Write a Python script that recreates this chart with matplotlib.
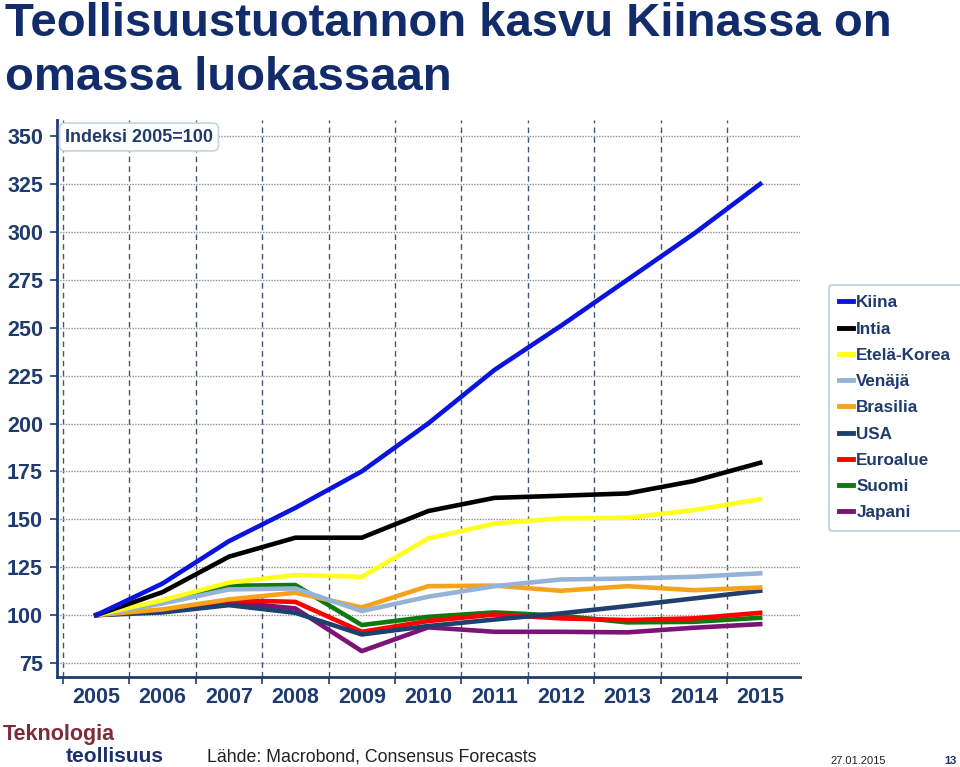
import matplotlib.pyplot as plt
import numpy as np

# data (index 2005 = 100)
years = [2005, 2006, 2007, 2008, 2009, 2010, 2011, 2012, 2013, 2014, 2015]
kiina = [100, 116.5, 138.6, 156.0, 175.0, 200.0, 228.0, 251.0, 275.0, 299.0, 325.0]
intia = [100, 112.0, 130.5, 140.4, 140.4, 154.3, 161.2, 162.3, 163.5, 170.0, 179.5]
etela_korea = [100, 107.8, 117.0, 120.9, 120.0, 140.0, 147.8, 150.5, 150.8, 154.8, 160.5]
venaja = [100, 106.1, 113.4, 113.9, 102.1, 109.6, 115.1, 118.6, 119.1, 120.0, 121.8]
brasilia = [100, 103.0, 108.2, 111.7, 104.0, 115.1, 115.4, 112.7, 115.1, 113.0, 114.4]
usa = [100, 101.4, 105.2, 101.2, 89.9, 94.3, 97.7, 100.9, 104.7, 108.7, 112.7]
euroalue = [100, 102.6, 107.8, 106.9, 91.3, 96.9, 100.3, 98.3, 97.4, 98.3, 101.2]
suomi = [100, 106.5, 115.3, 115.7, 94.8, 99.1, 101.4, 99.7, 96.2, 96.5, 98.6]
japani = [100, 102.1, 106.9, 103.5, 81.2, 93.6, 91.3, 91.3, 91.0, 93.4, 95.3]

names = ["Kiina", "Intia", "Etelä-Korea", "Venäjä", "Brasilia", "USA", "Euroalue", "Suomi", "Japani"]
series = [kiina, intia, etela_korea, venaja, brasilia, usa, euroalue, suomi, japani]
colors = ["#0A14DC", "#000000", "#FFFF1F", "#95B3D7", "#F5A31C", "#1F3F6E", "#FF0000", "#0E7A0E", "#7B1476"]

navy = "#1F3B6E"
title_col = "#112B6B"
plt.rcParams["font.family"] = ["Liberation Sans", "DejaVu Sans"]

fig = plt.figure(figsize=(9.6, 7.67), dpi=100)
W, H = 960, 767
ax = fig.add_axes([57 / W, 1 - 677 / H, (800 - 57) / W, (677 - 120) / H])

n = len(names)
for i in range(n - 1, -1, -1):
    ax.plot(years, series[i], color=colors[i], lw=3.3, label=names[i],
            zorder=3 + (n - i))

ax.set_xlim(2004.41, 2015.6)
ax.set_ylim(67.7, 358.4)

ax.set_yticks(np.arange(75, 351, 25))
ax.set_xticks(years)
ax.set_xticks(np.arange(2004.5, 2015, 1.0), minor=True)

ax.tick_params(axis="y", length=5, width=1.2, color=navy, pad=5,
               labelsize=15.5, labelcolor=navy)
ax.tick_params(axis="x", which="major", length=0, pad=7,
               labelsize=15.5, labelcolor=navy)
ax.tick_params(axis="x", which="minor", length=5, width=1.2, color=navy)
for lab in ax.get_yticklabels() + ax.get_xticklabels():
    lab.set_fontweight("bold")

# grid
ax.grid(axis="y", which="major", color="#8C8C8C", lw=1, linestyle=(0, (1, 1)), zorder=0)
ax.grid(axis="x", which="minor", color="#45576F", lw=1, linestyle=(0, (4, 3)), zorder=0)
ax.set_axisbelow(True)

for s in ["top", "right"]:
    ax.spines[s].set_visible(False)
for s in ["left", "bottom"]:
    ax.spines[s].set_color(navy)
    ax.spines[s].set_linewidth(2)

# legend in legend order
handles, labels = ax.get_legend_handles_labels()
order = [labels.index(nm) for nm in names]
leg = ax.legend([handles[k] for k in order], [labels[k] for k in order],
                loc="upper left", bbox_to_anchor=(829 / W, 1 - 285 / H),
                bbox_transform=fig.transFigure, fancybox=True,
                prop={"weight": "bold", "size": 12.3},
                handlelength=0.8, handletextpad=0.2, labelspacing=0.66,
                borderpad=0.6, borderaxespad=0, framealpha=1)
leg.get_frame().set_edgecolor("#C8D4E0")
leg.get_frame().set_linewidth(1.5)
for t in leg.get_texts():
    t.set_color(navy)
for h in leg.get_lines():
    h.set_linewidth(3.5)

# index label
fig.text(65 / W, 1 - 137 / H, "Indeksi 2005=100", fontweight="bold",
         fontsize=13, color=navy, va="center", ha="left",
         bbox=dict(boxstyle="round,pad=0.3", fc="white", ec="#C8D4E0", lw=1.2))

# title
fig.text(5 / W, 1 - 36 / H, "Teollisuustuotannon kasvu Kiinassa on",
         fontsize=34, fontweight="bold", color=title_col, va="baseline")
fig.text(5 / W, 1 - 90 / H, "omassa luokassaan",
         fontsize=34, fontweight="bold", color=title_col, va="baseline")

# footer
fig.text(3 / W, 1 - 740 / H, "Teknologia", fontsize=15.5, fontweight="bold",
         color="#7B2D3B", va="baseline")
fig.text(66 / W, 1 - 762.5 / H, "teollisuus", fontsize=15, fontweight="bold",
         color="#1A2F6B", va="baseline")
fig.text(207 / W, 1 - 762 / H, "Lähde: Macrobond, Consensus Forecasts",
         fontsize=12.8, color="#222222", va="baseline")
fig.text(830 / W, 1 - 764 / H, "27.01.2015", fontsize=8,
         color="#222222", va="baseline")
fig.text(944 / W, 1 - 764 / H, "13", fontsize=8, fontweight="bold",
         color="#1A2F6B", va="baseline")

fig.savefig("out.png", dpi=100)
